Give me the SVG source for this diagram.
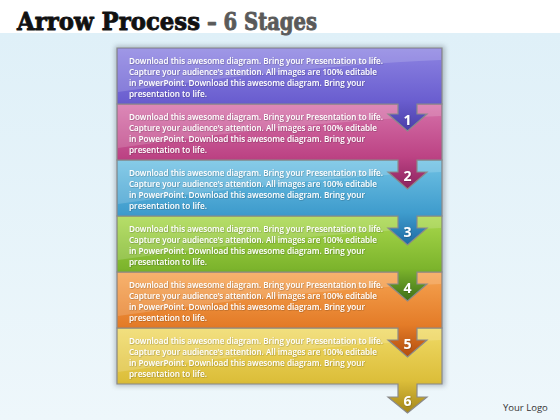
<svg xmlns="http://www.w3.org/2000/svg" width="560" height="420" viewBox="0 0 560 420">
<defs>
<linearGradient id="bg" x1="0" y1="0" x2="0" y2="1"><stop offset="0" stop-color="#dff0f8"/><stop offset="1" stop-color="#eef7fb"/></linearGradient>
<linearGradient id="g1" x1="0" y1="0" x2="0" y2="1"><stop offset="0" stop-color="#8d84e2"/><stop offset="0.62" stop-color="#6b5fd0"/><stop offset="1" stop-color="#4a3ea8"/></linearGradient>
<linearGradient id="g2" x1="0" y1="0" x2="0" y2="1"><stop offset="0" stop-color="#d672aa"/><stop offset="0.62" stop-color="#bc4384"/><stop offset="1" stop-color="#8c235e"/></linearGradient>
<linearGradient id="g3" x1="0" y1="0" x2="0" y2="1"><stop offset="0" stop-color="#70c2e4"/><stop offset="0.62" stop-color="#3f9ccd"/><stop offset="1" stop-color="#1d6aa3"/></linearGradient>
<linearGradient id="g4" x1="0" y1="0" x2="0" y2="1"><stop offset="0" stop-color="#a9d84c"/><stop offset="0.62" stop-color="#7cb42c"/><stop offset="1" stop-color="#3e6f18"/></linearGradient>
<linearGradient id="g5" x1="0" y1="0" x2="0" y2="1"><stop offset="0" stop-color="#f6a452"/><stop offset="0.62" stop-color="#e47c28"/><stop offset="1" stop-color="#b24d0e"/></linearGradient>
<linearGradient id="g6" x1="0" y1="0" x2="0" y2="1"><stop offset="0" stop-color="#f0da66"/><stop offset="0.62" stop-color="#dcbe3a"/><stop offset="1" stop-color="#a4861a"/></linearGradient>
<filter id="sh" x="-10%" y="-10%" width="120%" height="120%"><feGaussianBlur stdDeviation="2.5"/></filter>
<filter id="ts" x="-5%" y="-30%" width="110%" height="160%"><feDropShadow dx="0.5" dy="0.5" stdDeviation="0.4" flood-color="#000" flood-opacity="0.35"/></filter>
</defs>
<style>
.band{stroke:#8a8a8a;stroke-width:1.2}
.gloss{fill:#ffffff;opacity:0.16}
.txt{font-family:"Open Sans","Noto Sans",sans-serif;font-size:8.6px;font-weight:600;fill:#ffffff}
.num{font-family:"Open Sans","Noto Sans",sans-serif;font-size:14px;font-weight:700;fill:#ffffff;text-anchor:middle}
.ttl{font-family:"DejaVu Serif",serif;font-weight:700;font-size:25px;stroke-width:0.9;stroke-linejoin:round}
</style>
<rect x="0" y="0" width="560" height="420" fill="#ffffff"/>
<rect x="0" y="33" width="560" height="387" fill="url(#bg)"/>
<text class="ttl" x="17" y="30" fill="#111" stroke="#111" textLength="183" lengthAdjust="spacingAndGlyphs">Arrow Process</text>
<text class="ttl" x="207" y="30" fill="#5a5a5a" stroke="#5a5a5a" textLength="110" lengthAdjust="spacingAndGlyphs">– 6 Stages</text>
<rect x="115" y="46" width="330" height="340" fill="#6a7580" opacity="0.45" filter="url(#sh)"/>

<g id="stage6">
<path class="band" fill="url(#g6)" d="M117,328 H442 V384 H417 V397 H427 L407.5,413 L388,397 H398 V384 H117 Z"/>
<path class="gloss" d="M118,329 H441 V340 Q300,346 118,372 Z"/>
<g class="txt" filter="url(#ts)"><text x="129" y="343.5" textLength="254" lengthAdjust="spacingAndGlyphs">Download this awesome diagram. Bring your Presentation to life.</text><text x="129" y="354.7" textLength="248" lengthAdjust="spacingAndGlyphs">Capture your audience’s attention. All images are 100% editable</text><text x="129" y="365.9" textLength="236" lengthAdjust="spacingAndGlyphs">in PowerPoint. Download this awesome diagram. Bring your</text><text x="129" y="377.1" textLength="78" lengthAdjust="spacingAndGlyphs">presentation to life.</text></g>
<text class="num" x="407.5" y="406" filter="url(#ts)">6</text>
</g>
<g id="stage5">
<path class="band" fill="url(#g5)" d="M117,272 H442 V328 H417 V340 H427 L407.5,357 L388,340 H398 V328 H117 Z"/>
<path class="gloss" d="M118,273 H441 V284 Q300,290 118,316 Z"/>
<g class="txt" filter="url(#ts)"><text x="129" y="287.5" textLength="254" lengthAdjust="spacingAndGlyphs">Download this awesome diagram. Bring your Presentation to life.</text><text x="129" y="298.7" textLength="248" lengthAdjust="spacingAndGlyphs">Capture your audience’s attention. All images are 100% editable</text><text x="129" y="309.9" textLength="236" lengthAdjust="spacingAndGlyphs">in PowerPoint. Download this awesome diagram. Bring your</text><text x="129" y="321.1" textLength="78" lengthAdjust="spacingAndGlyphs">presentation to life.</text></g>
<text class="num" x="407.5" y="349" filter="url(#ts)">5</text>
</g>
<g id="stage4">
<path class="band" fill="url(#g4)" d="M117,216 H442 V272 H417 V284 H427 L407.5,301 L388,284 H398 V272 H117 Z"/>
<path class="gloss" d="M118,217 H441 V228 Q300,234 118,260 Z"/>
<g class="txt" filter="url(#ts)"><text x="129" y="231.5" textLength="254" lengthAdjust="spacingAndGlyphs">Download this awesome diagram. Bring your Presentation to life.</text><text x="129" y="242.7" textLength="248" lengthAdjust="spacingAndGlyphs">Capture your audience’s attention. All images are 100% editable</text><text x="129" y="253.9" textLength="236" lengthAdjust="spacingAndGlyphs">in PowerPoint. Download this awesome diagram. Bring your</text><text x="129" y="265.1" textLength="78" lengthAdjust="spacingAndGlyphs">presentation to life.</text></g>
<text class="num" x="407.5" y="293" filter="url(#ts)">4</text>
</g>
<g id="stage3">
<path class="band" fill="url(#g3)" d="M117,160 H442 V216 H417 V228 H427 L407.5,245 L388,228 H398 V216 H117 Z"/>
<path class="gloss" d="M118,161 H441 V172 Q300,178 118,204 Z"/>
<g class="txt" filter="url(#ts)"><text x="129" y="175.5" textLength="254" lengthAdjust="spacingAndGlyphs">Download this awesome diagram. Bring your Presentation to life.</text><text x="129" y="186.7" textLength="248" lengthAdjust="spacingAndGlyphs">Capture your audience’s attention. All images are 100% editable</text><text x="129" y="197.9" textLength="236" lengthAdjust="spacingAndGlyphs">in PowerPoint. Download this awesome diagram. Bring your</text><text x="129" y="209.1" textLength="78" lengthAdjust="spacingAndGlyphs">presentation to life.</text></g>
<text class="num" x="407.5" y="237" filter="url(#ts)">3</text>
</g>
<g id="stage2">
<path class="band" fill="url(#g2)" d="M117,104 H442 V160 H417 V172 H427 L407.5,189 L388,172 H398 V160 H117 Z"/>
<path class="gloss" d="M118,105 H441 V116 Q300,122 118,148 Z"/>
<g class="txt" filter="url(#ts)"><text x="129" y="119.5" textLength="254" lengthAdjust="spacingAndGlyphs">Download this awesome diagram. Bring your Presentation to life.</text><text x="129" y="130.7" textLength="248" lengthAdjust="spacingAndGlyphs">Capture your audience’s attention. All images are 100% editable</text><text x="129" y="141.9" textLength="236" lengthAdjust="spacingAndGlyphs">in PowerPoint. Download this awesome diagram. Bring your</text><text x="129" y="153.1" textLength="78" lengthAdjust="spacingAndGlyphs">presentation to life.</text></g>
<text class="num" x="407.5" y="181" filter="url(#ts)">2</text>
</g>
<g id="stage1">
<path class="band" fill="url(#g1)" d="M117,48 H442 V104 H417 V114 H427 L407.5,131 L388,114 H398 V104 H117 Z"/>
<path class="gloss" d="M118,49 H441 V60 Q300,66 118,92 Z"/>
<g class="txt" filter="url(#ts)"><text x="129" y="63.5" textLength="254" lengthAdjust="spacingAndGlyphs">Download this awesome diagram. Bring your Presentation to life.</text><text x="129" y="74.7" textLength="248" lengthAdjust="spacingAndGlyphs">Capture your audience’s attention. All images are 100% editable</text><text x="129" y="85.9" textLength="236" lengthAdjust="spacingAndGlyphs">in PowerPoint. Download this awesome diagram. Bring your</text><text x="129" y="97.1" textLength="78" lengthAdjust="spacingAndGlyphs">presentation to life.</text></g>
<text class="num" x="407.5" y="125" filter="url(#ts)">1</text>
</g>
<g id="connectors"/>
<text x="503" y="411" font-family="'Open Sans','Noto Sans',sans-serif" font-size="9.5" fill="#333">Your Logo</text>
</svg>
